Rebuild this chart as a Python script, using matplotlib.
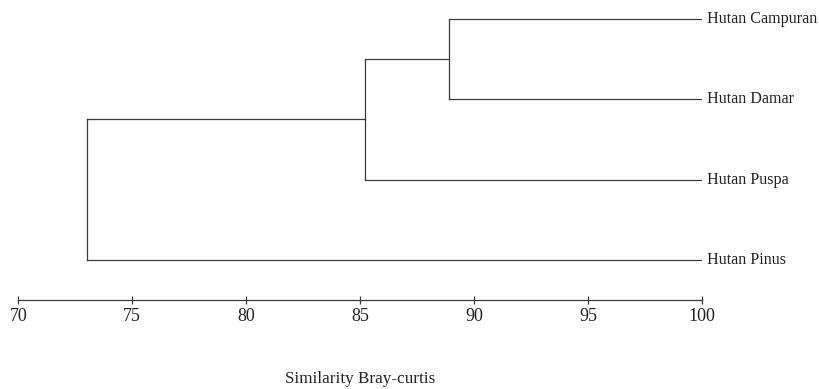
import numpy as np
import matplotlib.pyplot as plt

plt.rcParams['font.family'] = ['Liberation Serif', 'DejaVu Serif']

# leaves, top to bottom
labels = ['Hutan Campuran', 'Hutan Damar', 'Hutan Puspa', 'Hutan Pinus']
# merges: (left node, right node, similarity)
merges = [(0, 1, 88.9), (4, 2, 85.2), (5, 3, 73.0)]
ticks = [70, 75, 80, 85, 90, 95, 100]

LINE = '#3a3a3a'

fig = plt.figure(figsize=(8.19, 3.89), dpi=100)
ax = fig.add_axes([0.0223, 0.2288, 0.8352, 0.7429])

n = len(labels)
# y position of each node, x (similarity) of each node
ypos = {i: float(n - 1 - i) for i in range(n)}
xpos = {i: 100.0 for i in range(n)}

for k, (a, b, s) in enumerate(merges):
    node = n + k
    for c in (a, b):
        ax.plot([xpos[c], s], [ypos[c], ypos[c]], color=LINE, lw=0.9)
    ax.plot([s, s], [ypos[a], ypos[b]], color=LINE, lw=0.9)
    xpos[node] = s
    ypos[node] = (ypos[a] + ypos[b]) / 2.0

for i, lab in enumerate(labels):
    ax.text(100.2, ypos[i], lab, va='center', ha='left', fontsize=11.6, color='#222222')

ax.set_xlim(70, 100)
ax.set_ylim(-0.5, 3.1)
for side in ['top', 'right', 'left']:
    ax.spines[side].set_visible(False)
ax.spines['bottom'].set_color(LINE)
ax.spines['bottom'].set_linewidth(0.9)
ax.set_yticks([])
ax.set_xticks(ticks)
ax.tick_params(axis='x', direction='inout', length=6, width=0.9, color=LINE,
               labelsize=13, labelcolor='#222222', pad=3)
ax.set_xlabel('Similarity Bray-curtis', fontsize=12.3, color='#222222', labelpad=33)

fig.savefig('out.png', dpi=100)
